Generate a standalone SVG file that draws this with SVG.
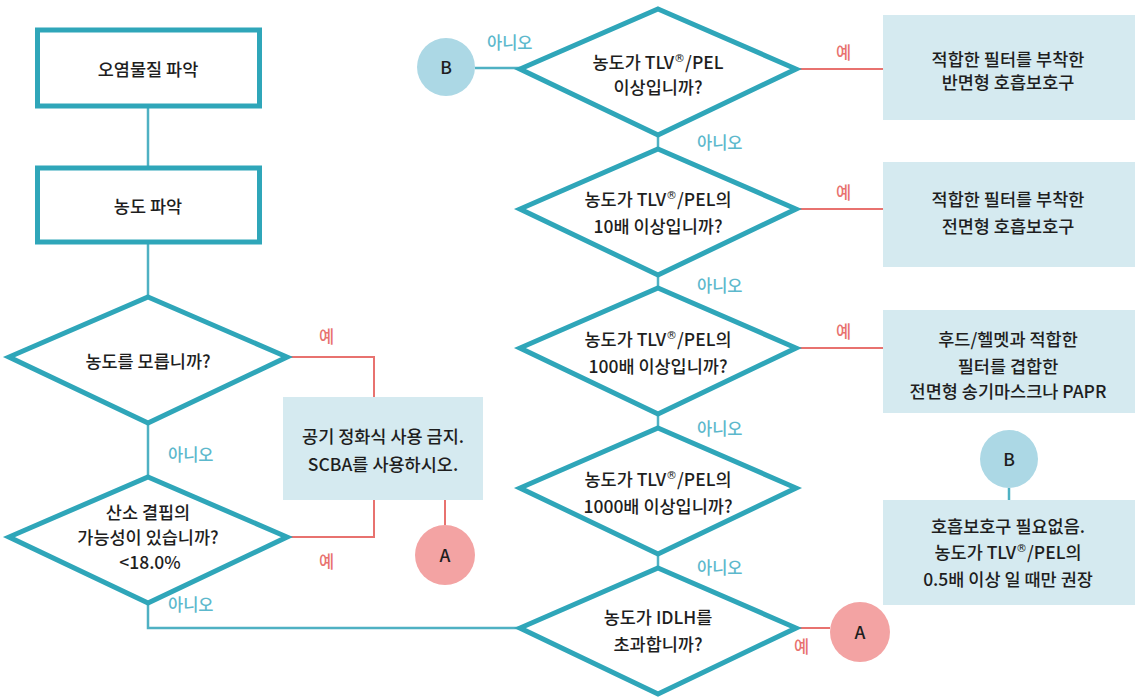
<svg xmlns="http://www.w3.org/2000/svg" width="1137" height="697" viewBox="0 0 1137 697">
<style>
.t{font-family:"Noto Sans CJK KR","Noto Sans",sans-serif;font-size:17.5px;fill:#1e1e1e;text-anchor:middle;font-weight:500}
.no{font-family:"Noto Sans CJK KR","Noto Sans",sans-serif;font-size:16.5px;fill:#5cb8cc;font-weight:500}
.yes{font-family:"Noto Sans CJK KR","Noto Sans",sans-serif;font-size:16.5px;fill:#e8726f;font-weight:500}
.box{fill:#fff;stroke:#2fa6b9;stroke-width:5}
.dia{fill:#fff;stroke:#2fa6b9;stroke-width:5;stroke-linejoin:miter}
.res{fill:#d5eaf0}
.cb{fill:#acd8e5}
.ca{fill:#f3a3a3}
.lt{fill:none;stroke:#4fb1c3;stroke-width:2.5}
.lr{fill:none;stroke:#e8726f;stroke-width:2}
.sup{font-family:"DejaVu Sans",sans-serif;font-size:11px;font-weight:normal}
</style>
<rect width="1137" height="697" fill="#fff"/>
<g id="connectors">
<path class="lt" d="M148 106V168"/>
<path class="lt" d="M148 242V297"/>
<path class="lt" d="M148 423V477"/>
<path class="lt" d="M148 603V628H520"/>
<path class="lr" d="M287 357H374V397"/>
<path class="lr" d="M374 500V537H287"/>
<path class="lr" d="M445 500V525"/>
<path class="lt" d="M475 68H520"/>
<path class="lt" d="M658 135V149"/>
<path class="lt" d="M658 275V288"/>
<path class="lt" d="M658 414V428"/>
<path class="lt" d="M658 554V568"/>
<path class="lr" d="M796 69H883"/>
<path class="lr" d="M796 209H883"/>
<path class="lr" d="M796 348H883"/>
<path class="lr" d="M796 628H830"/>
<path class="lt" d="M1009 488V500"/>
<text class="no" x="168" y="461">아니오</text>
<text class="no" x="168" y="611">아니오</text>
<text class="yes" x="319" y="343">예</text>
<text class="yes" x="319" y="568">예</text>
<text class="no" x="487" y="49">아니오</text>
<text class="no" x="697" y="149">아니오</text>
<text class="no" x="697" y="292">아니오</text>
<text class="no" x="697" y="435">아니오</text>
<text class="no" x="697" y="574">아니오</text>
<text class="yes" x="836" y="59">예</text>
<text class="yes" x="836" y="199">예</text>
<text class="yes" x="836" y="338">예</text>
<text class="yes" x="794" y="653">예</text>
</g>
<g id="n1">
<rect class="box" x="37.5" y="30" width="222" height="76"/>
<text class="t" x="148" y="76">오염물질 파악</text>
</g>
<g id="n2">
<rect class="box" x="37.5" y="168" width="222" height="74"/>
<text class="t" x="148" y="213">농도 파악</text>
</g>
<g id="d1">
<polygon class="dia" points="148,297 287,357 148,423 9,357"/>
<text class="t" x="148" y="368">농도를 모릅니까?</text>
</g>
<g id="d2">
<polygon class="dia" points="148,477 287,537 148,603 9,537"/>
<text class="t" x="148" y="519">산소 결핍의</text>
<text class="t" x="148" y="544">가능성이 있습니까?</text>
<text class="t" x="150" y="569">&lt;18.0%</text>
</g>
<g id="scba">
<rect class="res" x="283" y="397" width="200" height="103"/>
<text class="t" x="383" y="443">공기 정화식 사용 금지.</text>
<text class="t" x="383" y="471">SCBA를 사용하시오.</text>
</g>
<g id="a1">
<circle class="ca" cx="445" cy="555" r="30"/>
<text class="t" x="445" y="562">A</text>
</g>
<g id="b1">
<circle class="cb" cx="446" cy="67" r="29"/>
<text class="t" x="446" y="74">B</text>
</g>
<g id="r1">
<polygon class="dia" points="658,9 796,69 658,135 520,69"/>
<text class="t" x="658" y="69">농도가 TLV<tspan class="sup" dy="-7">®</tspan><tspan dy="7">/PEL</tspan></text>
<text class="t" x="658" y="94">이상입니까?</text>
</g>
<g id="r2">
<polygon class="dia" points="658,149 796,209 658,275 520,209"/>
<text class="t" x="658" y="206">농도가 TLV<tspan class="sup" dy="-7">®</tspan><tspan dy="7">/PEL의</tspan></text>
<text class="t" x="658" y="233">10배 이상입니까?</text>
</g>
<g id="r3">
<polygon class="dia" points="658,288 796,348 658,414 520,348"/>
<text class="t" x="658" y="346">농도가 TLV<tspan class="sup" dy="-7">®</tspan><tspan dy="7">/PEL의</tspan></text>
<text class="t" x="658" y="373">100배 이상입니까?</text>
</g>
<g id="r4">
<polygon class="dia" points="658,428 796,488 658,554 520,488"/>
<text class="t" x="658" y="486">농도가 TLV<tspan class="sup" dy="-7">®</tspan><tspan dy="7">/PEL의</tspan></text>
<text class="t" x="658" y="513">1000배 이상입니까?</text>
</g>
<g id="r5">
<polygon class="dia" points="658,568 796,628 658,694 520,628"/>
<text class="t" x="658" y="624">농도가 IDLH를</text>
<text class="t" x="658" y="651">초과합니까?</text>
</g>
<g id="a2">
<circle class="ca" cx="860" cy="632" r="30"/>
<text class="t" x="860" y="639">A</text>
</g>
<g id="o1">
<rect class="res" x="883" y="15" width="252" height="105"/>
<text class="t" x="1008" y="66">적합한 필터를 부착한</text>
<text class="t" x="1008" y="89">반면형 호흡보호구</text>
</g>
<g id="o2">
<rect class="res" x="883" y="162" width="252" height="105"/>
<text class="t" x="1008" y="206">적합한 필터를 부착한</text>
<text class="t" x="1008" y="233">전면형 호흡보호구</text>
</g>
<g id="o3">
<rect class="res" x="883" y="310" width="252" height="103"/>
<text class="t" x="1008" y="346">후드/헬멧과 적합한</text>
<text class="t" x="1008" y="373">필터를 겹합한</text>
<text class="t" x="1008" y="398">전면형 송기마스크나 PAPR</text>
</g>
<g id="b2">
<circle class="cb" cx="1009" cy="459" r="29"/>
<text class="t" x="1009" y="466">B</text>
</g>
<g id="o4">
<rect class="res" x="883" y="500" width="252" height="105"/>
<text class="t" x="1008" y="533">호흡보호구 필요없음.</text>
<text class="t" x="1008" y="559">농도가 TLV<tspan class="sup" dy="-7">®</tspan><tspan dy="7">/PEL의</tspan></text>
<text class="t" x="1008" y="586">0.5배 이상 일 때만 권장</text>
</g>
</svg>
